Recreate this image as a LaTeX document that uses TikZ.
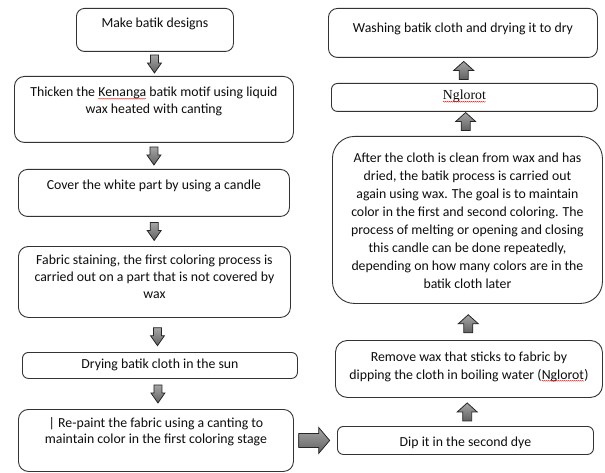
\documentclass[tikz,border=0pt]{standalone}
\usepackage{fontspec}
\setmainfont{Carlito}
\newfontfamily\serifword{Liberation Serif}
\usetikzlibrary{calc,decorations.pathmorphing}

% red wavy underline of a flagged word
\newcommand\flagged[1]{\tikz[baseline=(w.base)]{\node[inner sep=0pt,outer sep=0pt] (w) {#1};
  \draw[red, line width=0.35pt, decorate, decoration={snake, amplitude=0.45pt, segment length=2pt}]
    ([yshift=-1.8pt]w.base west) -- ([yshift=-1.8pt]w.base east);}}
% centred lines with the first baseline as reference
\newcommand\lines[2]{\parbox[t]{#1}{\centering #2}}

\begin{document}
\begin{tikzpicture}[x=1pt,y=-1pt,
  stepbox/.style={draw=black!80, line width=0.9pt, fill=white, inner sep=0pt, anchor=north west},
  txt/.style={inner sep=0pt, anchor=base, font=\fontsize{13.8}{16.5}\selectfont, text=black!95},
  blockarrow/.style={draw=black!85, line width=0.8pt, line join=miter, top color=black!35, bottom color=black!62},
  down block/.pic={\path[blockarrow] (-4,-9) -- (4,-9) -- (4,-1) -- (7,-1) -- (0,9) -- (-7,-1) -- (-4,-1) -- cycle;},
  up block/.pic={\path[blockarrow] (-4.5,9) -- (4.5,9) -- (4.5,0) -- (10,0) -- (0,-9) -- (-10,0) -- (-4.5,0) -- cycle;},
  right block/.pic={\path[blockarrow] (-15.5,-7) -- (4.5,-7) -- (4.5,-13) -- (15.5,0) -- (4.5,13) -- (4.5,7) -- (-15.5,7) -- cycle;}
]
\useasboundingbox (0,0) rectangle (605,473);

% left column
\node[stepbox, rounded corners=8pt,  minimum width=157pt, minimum height=43pt] (b1) at (76,8) {};
\node[stepbox, rounded corners=10pt, minimum width=279pt, minimum height=66pt] (b2) at (14,76) {};
\node[stepbox, rounded corners=9pt,  minimum width=271pt, minimum height=47pt] (b3) at (18,169) {};
\node[stepbox, rounded corners=10pt, minimum width=272pt, minimum height=71pt] (b4) at (18,246) {};
\node[stepbox, rounded corners=6pt,  minimum width=275pt, minimum height=26pt] (b5) at (22,352) {};
\node[stepbox, rounded corners=10pt, minimum width=275pt, minimum height=62pt] (b6) at (18,409) {};

% right column
\node[stepbox, rounded corners=9pt,  minimum width=269pt, minimum height=49pt] (b7) at (328,8) {};
\node[stepbox, rounded corners=6pt,  minimum width=266pt, minimum height=28pt] (b8) at (331,83) {};
\node[stepbox, rounded corners=22pt, minimum width=270pt, minimum height=167pt] (b9) at (332,136) {};
\node[stepbox, rounded corners=12pt, minimum width=267pt, minimum height=57pt] (b10) at (335,340) {};
\node[stepbox, rounded corners=6pt,  minimum width=256pt, minimum height=28pt] (b11) at (337,426) {};

% texts
\node[txt] (t1) at ($(b1.north)+(0,20)$) {\lines{150pt}{Make batik designs}};
\node[txt] (t2) at ($(b2.north)+(0,21)$) {\lines{275pt}{Thicken the \flagged{Kenanga} batik motif using liquid\\wax heated with canting}};
\node[txt] (t3) at ($(b3.north)+(0,21)$) {\lines{268pt}{Cover the white part by using a candle}};
\node[txt] (t4) at ($(b4.north)+(0,19)$) {\lines{270pt}{Fabric staining, the first coloring process is\\carried out on a part that is not covered by\\wax}};
\node[txt] (t5) at ($(b5.north)+(0,16)$) {\lines{272pt}{Drying batik cloth in the sun}};
\node[txt] (t6) at ($(b6.north)+(0,18)$) {\lines{272pt}{| Re-paint the fabric using a canting to\\maintain color in the first coloring stage}};
\node[txt] (t7) at ($(b7.north)+(0,25)$) {\lines{266pt}{Washing batik cloth and drying it to dry}};
\node[txt] (t8) at ($(b8.north)+(0,17)$) {\lines{260pt}{\flagged{\serifword Nglorot}}};
\node[txt, font=\fontsize{13.8}{18}\selectfont] (t9) at ($(b9.north)+(0,27)$) {\lines{268pt}{After the cloth is clean from wax and has\\dried, the batik process is carried out\\again using wax. The goal is to maintain\\color in the first and second coloring. The\\process of melting or opening and closing\\this candle can be done repeatedly,\\depending on how many colors are in the\\batik cloth later}};
\node[txt, font=\fontsize{13.8}{18}\selectfont] (t10) at ($(b10.north)+(0,21)$) {\lines{265pt}{Remove wax that sticks to fabric by\\dipping the cloth in boiling water (\flagged{Nglorot})}};
\node[txt] (t11) at ($(b11.north)+(0,20)$) {\lines{250pt}{Dip it in the second dye}};

% flow arrows
\coordinate (lx) at (157,0);
\coordinate (rx) at (463,0);
\pic at ($(b1.south)!0.5!(b2.north)$ -| lx) {down block};
\pic at ($(b2.south)!0.5!(b3.north)$ -| lx) {down block};
\pic at ($(b3.south)!0.5!(b4.north)$ -| lx) {down block};
\pic at ($(b4.south)!0.55!(b5.north)$ -| lx) {down block};
\pic at ($(b5.south)!0.5!(b6.north)$ -| lx) {down block};
\pic at ($(b6.east)!0.47!(b11.west)$) {right block};
\pic at ($(b11.north)!0.5!(b10.south)$ -| rx) {up block};
\pic at ($(b10.north)!0.45!(b9.south)$ -| rx) {up block};
\pic at ($(b9.north)!0.6!(b8.south)$ -| rx) {up block};
\pic at ($(b8.north)!0.5!(b7.south)$ -| rx) {up block};
\end{tikzpicture}
\end{document}
